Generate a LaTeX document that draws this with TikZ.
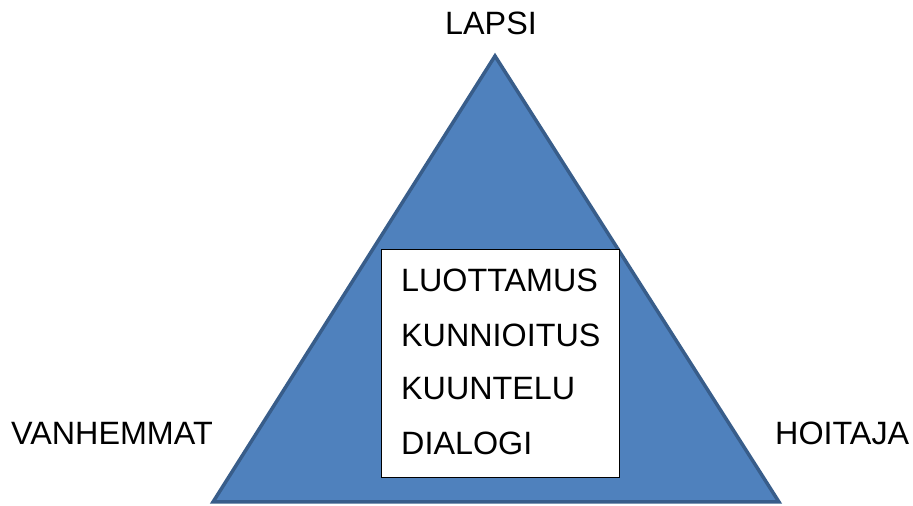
\documentclass[tikz,border=0pt]{standalone}
\usepackage{fontspec}
\setmainfont{Liberation Sans}
\definecolor{trifill}{HTML}{4F81BD}
\definecolor{triline}{HTML}{385D8A}
\begin{document}
\begin{tikzpicture}[x=1pt,y=1pt,
  lbl/.style={inner sep=0pt,font=\fontsize{32.3}{32.3}\selectfont},
  tri/.style={fill=trifill,draw=triline,line width=3.5pt,line join=miter},
  wbox/.style={fill=white,draw=black,line width=1pt}]
\useasboundingbox (0,0) rectangle (913,506);
\coordinate (apex) at (495,450);
\coordinate (bl) at (213,4);
\coordinate (br) at (779,4);
\draw[tri] (apex) -- (br) -- (bl) -- cycle;
\draw[wbox] (381,28) rectangle (619,256);
\node[lbl,anchor=base west] (l1) at (401,214) {LUOTTAMUS};
\node[lbl,anchor=base west] (l2) at (401,159) {KUNNIOITUS};
\node[lbl,anchor=base west] (l3) at (401,106) {KUUNTELU};
\node[lbl,anchor=base west] (l4) at (401,51) {DIALOGI};
\node[lbl,anchor=base] (lapsi) at (491,471) {LAPSI};
\node[lbl,anchor=base west] (vanh) at (11,61) {VANHEMMAT};
\node[lbl,anchor=base west] (hoit) at (775,61) {HOITAJA};
\end{tikzpicture}
\end{document}
